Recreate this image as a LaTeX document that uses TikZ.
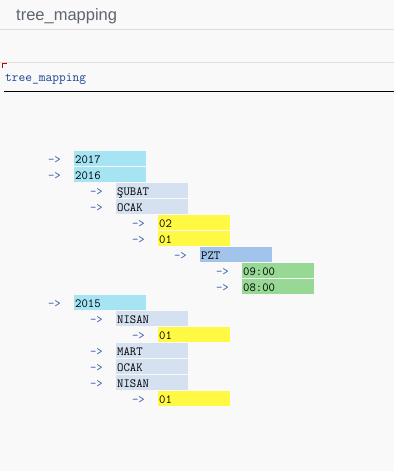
\documentclass[tikz,border=0pt]{standalone}
\usepackage{fontspec}
\setmainfont{Liberation Sans}
\usetikzlibrary{positioning}
\definecolor{pagebg}{HTML}{F9F9F9}
\definecolor{rulegray}{HTML}{DDDDDD}
\definecolor{titlegray}{HTML}{5E6470}
\definecolor{codeblue}{HTML}{1A4594}
\definecolor{arrowblue}{HTML}{2C58A8}
\definecolor{yearcol}{HTML}{A6E4F4}
\definecolor{monthcol}{HTML}{D5E0F1}
\definecolor{daycol}{HTML}{FFF944}
\definecolor{wdaycol}{HTML}{A3C4EA}
\definecolor{hourcol}{HTML}{97D994}
\begin{document}
\begin{tikzpicture}[x=1pt, y=-1pt,
  every node/.style = {inner sep=0pt},
  keybox/.style = {anchor=north west, minimum width=72pt, minimum height=15pt,
    text width=70pt, align=left, inner xsep=1pt,
    text height=11pt, text depth=2pt,
    font=\fontsize{12.4}{14}\selectfont\ttfamily, text=black},
  arrowtxt/.style = {font=\fontsize{12.4}{14}\selectfont\ttfamily, text=arrowblue}
  ]
  \useasboundingbox[fill=pagebg] (0,0) rectangle (394,471);
  % header
  \node[anchor=base west, font=\fontsize{16.5}{18}\selectfont, text=titlegray]
    (title) at (16,20) {tree\_mapping};
  \draw[rulegray] (0,29.5) -- (394,29.5);
  \draw[rulegray] (0,62) -- (394,62);
  \draw[red!80!black] (2,68) -- (2,63) -- (7,63);
  \node[anchor=base west, font=\fontsize{13.1}{14}\selectfont\ttfamily, text=codeblue]
    (name) at (5,81.5) {tree\_mapping};
  \draw[black, line width=1.2pt] (4,91.5) -- (394,91.5);
  % rows of the mapping
  \foreach \lvl/\txt/\col [count=\i] in {1/2017/yearcol, 1/2016/yearcol,
      2/ŞUBAT/monthcol, 2/OCAK/monthcol, 3/02/daycol, 3/01/daycol,
      4/PZT/wdaycol, 5/09:00/hourcol, 5/08:00/hourcol, 1/2015/yearcol,
      2/NISAN/monthcol, 3/01/daycol, 2/MART/monthcol, 2/OCAK/monthcol,
      2/NISAN/monthcol, 3/01/daycol} {
    \node[keybox, fill=\col] (b\i) at ({74+42*(\lvl-1)}, {151+16*(\i-1)}) {\txt};
    \node[arrowtxt, left=13pt of b\i.base west, anchor=base east] (a\i) {->};
  }
\end{tikzpicture}
\end{document}
